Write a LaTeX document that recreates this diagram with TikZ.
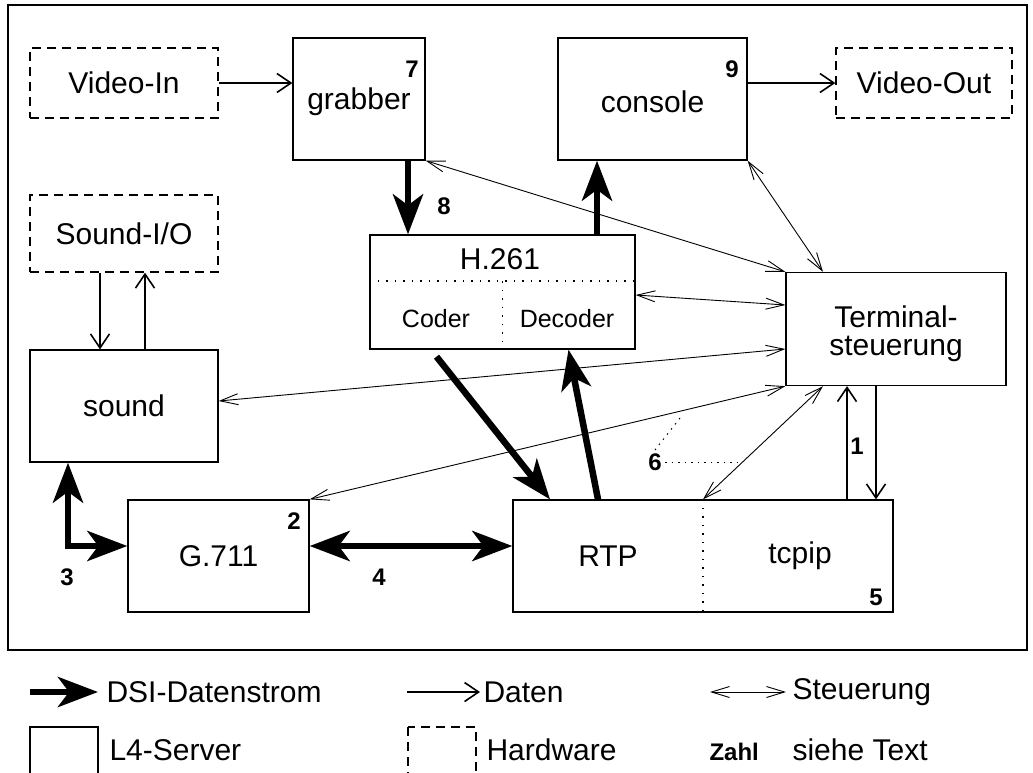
\documentclass[tikz,border=0pt]{standalone}
\usepackage{fontspec}
\setmainfont{Liberation Sans}
\usetikzlibrary{positioning,arrows.meta,calc}
\tikzset{
    lbl/.style={font=\fontsize{30}{28}\selectfont},
    num/.style={font=\fontsize{24}{26}\selectfont\bfseries},
    server/.style={rectangle, draw, line width=1.3pt, lbl, align=center},
    hardware/.style={server, dash pattern=on 9pt off 6pt},
    dsi arrow/.style={line width=6.5pt, -{Stealth[length=40pt, width=30pt, inset=11pt]}},
    dsi both/.style={line width=6.5pt, {Stealth[length=40pt, width=30pt, inset=11pt]}-{Stealth[length=40pt, width=30pt, inset=11pt]}},
    data arrow/.style={line width=1.6pt, -{Straight Barb[length=14pt, width=19pt, line width=1.6pt]}},
    ctrl arrow/.style={line width=0.9pt, {Straight Barb[length=18pt, width=11pt, line width=0.9pt]}-{Straight Barb[length=18pt, width=11pt, line width=0.9pt]}},
    split/.style={line width=1.3pt, dash pattern=on 1.5pt off 7pt}
}

\begin{document}
\begin{tikzpicture}[x=1pt, y=-1pt]
    \useasboundingbox (0,0) rectangle (1033,772);

    % Frame
    \draw[line width=1.3pt] (8,5) rectangle (1027,650);

    % Hardware
    \node[hardware, minimum width=188pt, minimum height=70pt] (videoin) at (124,83) {Video-In};
    \node[hardware, minimum width=176pt, minimum height=70pt] (videoout) at (924,83) {Video-Out};
    \node[hardware, minimum width=188pt, minimum height=77pt] (soundio) at (124,233.5) {Sound-I/O};

    % L4 servers
    \node[server, minimum width=132pt, minimum height=122pt] (grabber) at (359,99) {};
    \node[server, minimum width=189pt, minimum height=122pt] (console) at (652.5,99) {};
    \node[server, minimum width=265pt, minimum height=114pt] (h261) at (502.5,292) {};
    \node[server, minimum width=188pt, minimum height=112pt] (sound) at (124,406) {sound};
    \node[server, minimum width=220pt, minimum height=113pt] (terminal) at (896,329) {};
    \node[server, minimum width=181pt, minimum height=112pt] (g711) at (218.5,556) {G.711};
    \node[server, minimum width=380pt, minimum height=112pt] (rtp) at (703,556) {};
    \node[lbl] (grabberlbl) at (359,102) {grabber};
    \node[lbl] (consolelbl) at (652.5,102) {console};
    \node[lbl, align=center] (terminallbl) at (896,334) {Terminal-\\steuerung};

    % H.261 parts
    \draw[split] (h261.west |- 0,281) -- (h261.east |- 0,281);
    \draw[split] (h261.south |- 0,281) -- (h261.south);
    \node[lbl] (h261title) at (500,259) {H.261};
    \node[lbl, font=\fontsize{25}{28}\selectfont] (coder) at (436,319) {Coder};
    \node[lbl, font=\fontsize{25}{28}\selectfont] (decoder) at (567,319) {Decoder};

    % RTP / tcpip parts
    \draw[split] (rtp.north) -- (rtp.south);
    \node[lbl] (rtplbl) at (608,556) {RTP};
    \node[lbl] (tcpiplbl) at (800,556) {tcpip};

    % Numbers
    \node[num] (n7) at (412,69) {7};
    \node[num] (n9) at (732,69) {9};
    \node[num] (n8) at (444,206) {8};
    \node[num] (n1) at (857,446) {1};
    \node[num] (n6) at (655,462) {6};
    \node[num] (n3) at (67,577) {3};
    \node[num] (n4) at (379,577) {4};
    \node[num] (n2) at (294,521) {2};
    \node[num] (n5) at (876,597) {5};

    % Daten
    \draw[data arrow] (videoin.east) -- (videoin.east -| grabber.west);
    \draw[data arrow] (console.east |- videoout.west) -- (videoout.west);
    \draw[data arrow] ([xshift=-24pt]soundio.south) -- ([xshift=-24pt]sound.north);
    \draw[data arrow] ([xshift=21pt]sound.north) -- ([xshift=21pt]soundio.south);
    \draw[data arrow] ([xshift=-49pt]rtp.north -| terminal.south) -- ([xshift=-49pt]terminal.south);
    \draw[data arrow] ([xshift=-20pt]terminal.south) -- ([xshift=-20pt]terminal.south |- rtp.north);

    % DSI-Datenstrom
    \draw[dsi arrow] ([xshift=49pt]grabber.south) -- ([xshift=49pt]grabber.south |- h261.north);
    \draw[dsi arrow] ([xshift=94.5pt]h261.north) -- ([xshift=94.5pt]h261.north |- console.south);
    \draw[dsi both] ([xshift=-56pt]sound.south) |- ([yshift=10pt]g711.west);
    \draw[dsi both] ([yshift=10pt]g711.east) -- ([yshift=10pt]rtp.west);
    \draw[dsi arrow] ([xshift=-66pt,yshift=-7pt]h261.south) -- ([xshift=-153pt]rtp.north);
    \draw[dsi arrow] ([xshift=-105pt]rtp.north) -- ([xshift=66pt]h261.south);

    % Steuerung
    \draw[ctrl arrow] (grabber.south east) -- (terminal.north west);
    \draw[ctrl arrow] (console.south east) -- ([xshift=-73pt]terminal.north);
    \draw[ctrl arrow] ([yshift=-3pt]h261.east) -- ([yshift=24pt]terminal.west);
    \draw[ctrl arrow] ([yshift=5pt]sound.east) -- ([yshift=-20pt]terminal.west);
    \draw[ctrl arrow] (g711.north east) -- (terminal.south west);
    \draw[ctrl arrow] (rtp.north) -- ([xshift=-73pt]terminal.south);

    % Hinweis 6
    \coordinate (six h) at (742,462);
    \coordinate (six d) at (680,418);
    \draw[line width=1pt, dash pattern=on 1.5pt off 5pt] (n6.east) -- (six h);
    \draw[line width=1pt, dash pattern=on 1.5pt off 5pt] (n6.north) -- (six d);

    % Legende
    \coordinate (dsi a) at (30,692);
    \coordinate (dsi b) at (98,692);
    \draw[dsi arrow] (dsi a) -- (dsi b);
    \node[lbl, right=5pt of dsi b] (dsitxt) {DSI-Datenstrom};
    \coordinate (dat a) at (407,692);
    \coordinate (dat b) at (480,692);
    \draw[data arrow, line width=1.2pt] (dat a) -- (dat b);
    \node[lbl, right=0pt of dat b] (dattxt) {Daten};
    \coordinate (ctl a) at (710,692);
    \coordinate (ctl b) at (786,692);
    \draw[ctrl arrow] (ctl a) -- (ctl b);
    \node[lbl, right=3pt of ctl b] (ctltxt) {Steuerung};
    \draw[line width=1.3pt] (30,727) rectangle (98,775);
    \node[lbl, anchor=west] (srvtxt) at (106,750) {L4-Server};
    \draw[line width=1.3pt, dash pattern=on 9pt off 6pt] (408,727) rectangle (476,775);
    \node[lbl, anchor=west] (hwtxt) at (483,750) {Hardware};
    \node[num, anchor=west] (zahl) at (706,752) {Zahl};
    \node[lbl, anchor=west] (sieh) at (789,750) {siehe Text};
\end{tikzpicture}
\end{document}
